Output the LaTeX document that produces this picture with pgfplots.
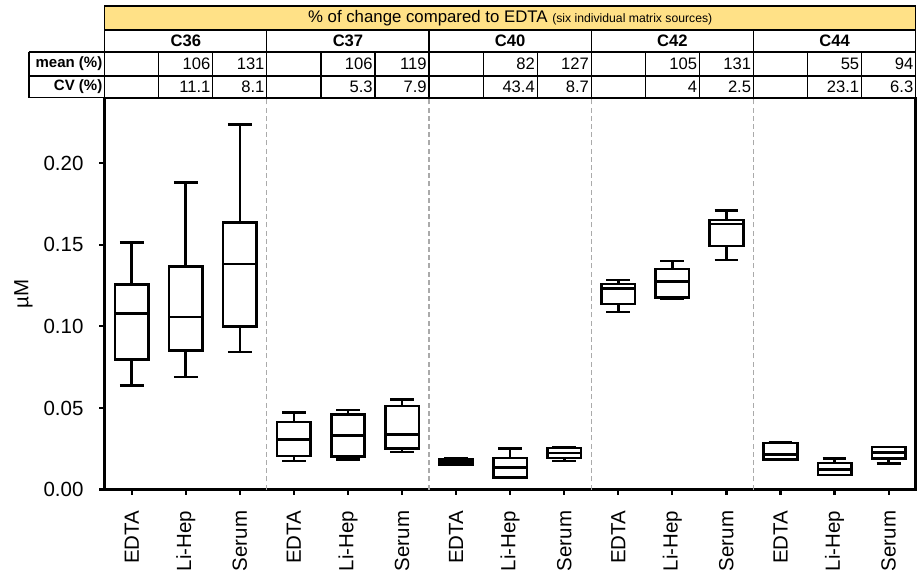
\documentclass[border=0pt]{standalone}
\usepackage{fontspec}
\setmainfont{Liberation Sans}
\usepackage{pgfplots}
\pgfplotsset{compat=1.18}
\usepgfplotslibrary{statistics}
\definecolor{hdryellow}{RGB}{255,225,135}
\definecolor{sepgray}{RGB}{170,170,170}
\newcommand{\tabfont}{\fontsize{8.3}{9.5}\selectfont}
\begin{document}
\begin{tikzpicture}
\begin{axis}[
  scale only axis, width=405.7pt, height=196pt,
  xmin=-0.5, xmax=14.5, ymin=0, ymax=0.24,
  clip=false,
  axis line style={line width=1.2pt},
  xtick={0,...,14},
  xticklabels={EDTA,Li-Hep,Serum,EDTA,Li-Hep,Serum,EDTA,Li-Hep,Serum,EDTA,Li-Hep,Serum,EDTA,Li-Hep,Serum},
  ytick={0,0.05,0.1,0.15,0.2},
  scaled y ticks=false,
  tick align=outside, tick pos=left, major tick length=2.6pt,
  tick style={line width=1.1pt, black},
  /pgf/number format/assume math mode=true,
  yticklabel style={/pgf/number format/.cd, fixed, fixed zerofill, precision=2},
  ticklabel style={font=\fontsize{10.25}{12}\selectfont},
  xticklabel style={rotate=90, anchor=east},
  xticklabel shift=4.5pt,
  yticklabel shift=4.5pt,
  ylabel={µM},
  ylabel style={font=\fontsize{10.25}{12}\selectfont, at={(rel axis cs:-0.1,0.5)}, anchor=center},
  boxplot/draw direction=y,
  boxplot/box extend=0.62,
  boxplot/whisker extend=0.44,
]
% invisible bounding box matching reference canvas
\path (axis cs:-2.436,-0.0502) rectangle (axis cs:14.58,0.2999);
% group separators
\pgfplotsinvokeforeach{2.5,5.5,8.5,11.5}{
  \draw[sepgray, line width=0.6pt, dash pattern=on 2.5pt off 1.6pt] (axis cs:#1,0) -- (axis cs:#1,0.24);
}
% C36
\addplot[black, line width=1.3pt, boxplot prepared={draw position=0, lower whisker=0.0637, lower quartile=0.0798, median=0.1077, upper quartile=0.1255, upper whisker=0.1514}] coordinates {};
\addplot[black, line width=1.3pt, boxplot prepared={draw position=1, lower whisker=0.0690, lower quartile=0.0851, median=0.1057, upper quartile=0.1367, upper whisker=0.1880}] coordinates {};
\addplot[black, line width=1.3pt, boxplot prepared={draw position=2, lower whisker=0.0843, lower quartile=0.0999, median=0.1381, upper quartile=0.1636, upper whisker=0.2238}] coordinates {};
% C37
\addplot[black, line width=1.3pt, boxplot prepared={draw position=3, lower whisker=0.0176, lower quartile=0.0206, median=0.0306, upper quartile=0.0414, upper whisker=0.0473}] coordinates {};
\addplot[black, line width=1.3pt, boxplot prepared={draw position=4, lower whisker=0.0186, lower quartile=0.0202, median=0.0330, upper quartile=0.0459, upper whisker=0.0488}] coordinates {};
\addplot[black, line width=1.3pt, boxplot prepared={draw position=5, lower whisker=0.0231, lower quartile=0.0253, median=0.0337, upper quartile=0.0512, upper whisker=0.0553}] coordinates {};
% C40
\addplot[black, line width=1.3pt, boxplot prepared={draw position=6, lower whisker=0.0150, lower quartile=0.0155, median=0.0170, upper quartile=0.0183, upper whisker=0.0190}] coordinates {};
\addplot[black, line width=1.3pt, boxplot prepared={draw position=7, lower whisker=0.0072, lower quartile=0.0073, median=0.0135, upper quartile=0.0194, upper whisker=0.0251}] coordinates {};
\addplot[black, line width=1.3pt, boxplot prepared={draw position=8, lower whisker=0.0176, lower quartile=0.0194, median=0.0224, upper quartile=0.0255, upper whisker=0.0257}] coordinates {};
% C42
\addplot[black, line width=1.3pt, boxplot prepared={draw position=9, lower whisker=0.1089, lower quartile=0.1138, median=0.1230, upper quartile=0.1259, upper whisker=0.1283}] coordinates {};
\addplot[black, line width=1.3pt, boxplot prepared={draw position=10, lower whisker=0.1171, lower quartile=0.1177, median=0.1275, upper quartile=0.1352, upper whisker=0.1401}] coordinates {};
\addplot[black, line width=1.3pt, boxplot prepared={draw position=11, lower whisker=0.1406, lower quartile=0.1493, median=0.1626, upper quartile=0.1652, upper whisker=0.1709}] coordinates {};
% C44
\addplot[black, line width=1.3pt, boxplot prepared={draw position=12, lower whisker=0.0182, lower quartile=0.0184, median=0.0214, upper quartile=0.0286, upper whisker=0.0287}] coordinates {};
\addplot[black, line width=1.3pt, boxplot prepared={draw position=13, lower whisker=0.0089, lower quartile=0.0090, median=0.0122, upper quartile=0.0163, upper whisker=0.0190}] coordinates {};
\addplot[black, line width=1.3pt, boxplot prepared={draw position=14, lower whisker=0.0160, lower quartile=0.0190, median=0.0228, upper quartile=0.0260, upper whisker=0.0262}] coordinates {};
% ---- table above the plot ----
\fill[hdryellow] (axis cs:-0.5,0.2815) rectangle (axis cs:14.5,0.2962);
\draw[line width=0.6pt] (axis cs:-0.5,0.2815) rectangle (axis cs:14.5,0.2962);
\draw[line width=0.6pt] (axis cs:-0.5,0.2815) -- (axis cs:-0.5,0.24);
\draw[line width=0.6pt] (axis cs:14.5,0.2815) -- (axis cs:14.5,0.24);
\draw[line width=0.6pt] (axis cs:-1.9,0.2681) -- (axis cs:14.5,0.2681);
\draw[line width=0.6pt] (axis cs:-1.9,0.2534) -- (axis cs:14.5,0.2534);
\draw[line width=0.6pt] (axis cs:-1.9,0.24) -- (axis cs:-0.5,0.24);
\draw[line width=0.6pt] (axis cs:-1.9,0.2681) -- (axis cs:-1.9,0.24);
\pgfplotsinvokeforeach{2.5,5.5,8.5,11.5}{
  \draw[line width=0.6pt] (axis cs:#1,0.2815) -- (axis cs:#1,0.24);
}
\pgfplotsinvokeforeach{0.5,1.5,3.5,4.5,6.5,7.5,9.5,10.5,12.5,13.5}{
  \draw[line width=0.6pt] (axis cs:#1,0.2681) -- (axis cs:#1,0.24);
}
\node[font=\fontsize{8.4}{10}\selectfont] at (axis cs:7,0.2889) {\% of change compared to EDTA {\fontsize{6.1}{7}\selectfont (six individual matrix sources)}};
\node[font=\tabfont\bfseries] at (axis cs:1,0.2748) {C36};
\node[font=\tabfont\bfseries] at (axis cs:4,0.2748) {C37};
\node[font=\tabfont\bfseries] at (axis cs:7,0.2748) {C40};
\node[font=\tabfont\bfseries] at (axis cs:10,0.2748) {C42};
\node[font=\tabfont\bfseries] at (axis cs:13,0.2748) {C44};
\node[font=\fontsize{7.5}{9}\selectfont\bfseries, anchor=east, inner sep=1pt] at (axis cs:-0.5,0.2607) {mean (\%)};
\node[font=\fontsize{7.5}{9}\selectfont\bfseries, anchor=east, inner sep=1pt] at (axis cs:-0.5,0.2467) {CV (\%)};
% mean row
\node[font=\tabfont, anchor=east, inner sep=1pt] at (axis cs:1.5,0.2607) {106};
\node[font=\tabfont, anchor=east, inner sep=1pt] at (axis cs:2.5,0.2607) {131};
\node[font=\tabfont, anchor=east, inner sep=1pt] at (axis cs:4.5,0.2607) {106};
\node[font=\tabfont, anchor=east, inner sep=1pt] at (axis cs:5.5,0.2607) {119};
\node[font=\tabfont, anchor=east, inner sep=1pt] at (axis cs:7.5,0.2607) {82};
\node[font=\tabfont, anchor=east, inner sep=1pt] at (axis cs:8.5,0.2607) {127};
\node[font=\tabfont, anchor=east, inner sep=1pt] at (axis cs:10.5,0.2607) {105};
\node[font=\tabfont, anchor=east, inner sep=1pt] at (axis cs:11.5,0.2607) {131};
\node[font=\tabfont, anchor=east, inner sep=1pt] at (axis cs:13.5,0.2607) {55};
\node[font=\tabfont, anchor=east, inner sep=1pt] at (axis cs:14.5,0.2607) {94};
% CV row
\node[font=\tabfont, anchor=east, inner sep=1pt] at (axis cs:1.5,0.2467) {11.1};
\node[font=\tabfont, anchor=east, inner sep=1pt] at (axis cs:2.5,0.2467) {8.1};
\node[font=\tabfont, anchor=east, inner sep=1pt] at (axis cs:4.5,0.2467) {5.3};
\node[font=\tabfont, anchor=east, inner sep=1pt] at (axis cs:5.5,0.2467) {7.9};
\node[font=\tabfont, anchor=east, inner sep=1pt] at (axis cs:7.5,0.2467) {43.4};
\node[font=\tabfont, anchor=east, inner sep=1pt] at (axis cs:8.5,0.2467) {8.7};
\node[font=\tabfont, anchor=east, inner sep=1pt] at (axis cs:10.5,0.2467) {4};
\node[font=\tabfont, anchor=east, inner sep=1pt] at (axis cs:11.5,0.2467) {2.5};
\node[font=\tabfont, anchor=east, inner sep=1pt] at (axis cs:13.5,0.2467) {23.1};
\node[font=\tabfont, anchor=east, inner sep=1pt] at (axis cs:14.5,0.2467) {6.3};
\end{axis}
\end{tikzpicture}
\end{document}
